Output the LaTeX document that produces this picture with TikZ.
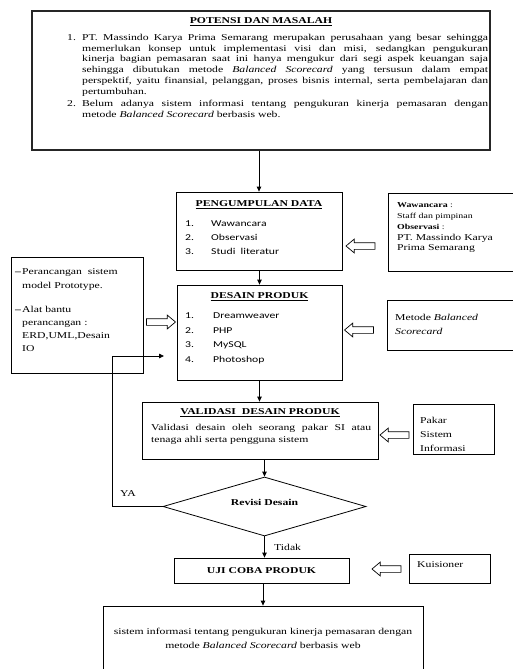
\documentclass[tikz,border=0pt]{standalone}
\usepackage{fontspec}
\usepackage{graphicx}
\setmainfont{Liberation Serif}
\newfontfamily\calib{Carlito}
\usetikzlibrary{arrows.meta,shapes.geometric,shapes.arrows}
\newcommand{\HS}[1]{\scalebox{1.3}[1]{#1}}
\newcommand{\LL}[1]{\begin{tabular}[t]{@{}l@{}}#1\end{tabular}}
\tikzset{
  box/.style={draw, line width=0.8pt, inner sep=0pt},
  txt/.style={inner sep=0pt, anchor=north west},
  conn/.style={line width=0.8pt, -{Triangle[length=5pt,width=4.5pt]}},
  hollow/.style={single arrow, draw, line width=0.7pt, inner sep=3pt, minimum height=29pt,
    single arrow head extend=3.5pt, single arrow tip angle=80},
  hollowL/.style={hollow, shape border rotate=180},
  hollowR/.style={hollow, shape border rotate=0},
  ttl/.style={inner sep=0pt, font=\fontsize{9}{10.8}\selectfont\bfseries},
}
\begin{document}
\begin{tikzpicture}[x=1pt,y=-1pt, font=\fontsize{9}{10.8}\selectfont]
\useasboundingbox (0,0) rectangle (512,669);

% boxes
\node[box, draw=black!85, line width=1.2pt, minimum width=458pt, minimum height=139pt] (potensi) at (261,80.5) {};
\node[box, minimum width=166pt, minimum height=78pt] (kumpul) at (259,231) {};
\node[box, minimum width=165pt, minimum height=95pt] (desain) at (259.5,332.5) {};
\node[box, minimum width=132pt, minimum height=116pt] (kiri) at (77,315) {};
\node[box, minimum width=127pt, minimum height=78pt] (wawan) at (451.5,232) {};
\node[box, minimum width=128pt, minimum height=50pt] (metode) at (451,325) {};
\node[box, minimum width=236pt, minimum height=57pt] (valid) at (260,430.5) {};
\node[box, minimum width=81pt, minimum height=50pt] (pakar) at (453.5,429) {};
\node[draw, line width=0.8pt, diamond, inner sep=0pt, minimum width=203pt, minimum height=59pt] (rev) at (264.5,506.5) {};
\node[box, minimum width=175pt, minimum height=25pt] (uji) at (261.5,570.5) {};
\node[box, minimum width=81pt, minimum height=29pt] (kuis) at (449.5,568.5) {};
\node[box, minimum width=320pt, minimum height=64pt] (hasil) at (263,638) {};

% texts: potensi
\node[ttl] (tpot) at (261,22) {\HS{\underline{POTENSI DAN MASALAH}}};
\node[txt] (tpotisi) at (67,33.8) {\HS{\parbox[t]{323.8pt}{%
\noindent\hangindent=11.5pt\hangafter=1\makebox[11.5pt][l]{1.}PT. Massindo Karya Prima Semarang merupakan perusahaan yang besar sehingga\linebreak
memerlukan konsep untuk implementasi visi dan misi, sedangkan pengukuran\linebreak
kinerja bagian pemasaran saat ini hanya mengukur dari segi aspek keuangan saja\linebreak
sehingga dibutukan metode \textit{Balanced Scorecard} yang tersusun dalam empat\linebreak
perspektif, yaitu finansial, pelanggan, proses bisnis internal, serta pembelajaran dan\linebreak
pertumbuhan.\par\vspace{1.2pt}
\noindent\hangindent=11.5pt\hangafter=1\makebox[11.5pt][l]{2.}Belum adanya sistem informasi tentang pengukuran kinerja pemasaran dengan\linebreak
metode \textit{Balanced Scorecard} berbasis web.\par}}};

% pengumpulan data
\node[ttl] (tkum) at (259,205) {\HS{\underline{PENGUMPULAN DATA}}};
\node[txt, font=\calib\fontsize{9}{14}\selectfont] (tkumisi) at (185,216) {\HS{\LL{%
\makebox[20pt][l]{1.}Wawancara\\
\makebox[20pt][l]{2.}Observasi\\
\makebox[20pt][l]{3.}Studi\ \ literatur}}};

% desain produk
\node[ttl] (tdes) at (259.5,297) {\HS{\underline{DESAIN PRODUK}}};
\node[txt, font=\calib\fontsize{9}{14.6}\selectfont] (tdesisi) at (185,308) {\HS{\LL{%
\makebox[21.5pt][l]{1.}Dreamweaver\\
\makebox[21.5pt][l]{2.}PHP\\
\makebox[21.5pt][l]{3.}MySQL\\
\makebox[21.5pt][l]{4.}Photoshop}}};

% left box
\node[txt, font=\fontsize{9}{13.2}\selectfont] (tkiri) at (15,265.5) {\HS{\LL{%
\makebox[5.4pt][l]{\textbf{–}}Perancangan\ \ sistem\\
\hspace*{5.4pt}model Prototype.\\[11pt]
\makebox[5.4pt][l]{\textbf{–}}Alat bantu\\
\hspace*{5.4pt}perancangan :\\
\hspace*{5.4pt}ERD,UML,Desain\\
\hspace*{5.4pt}IO}}};

% wawancara box
\node[txt] (twawan) at (397,200) {\HS{\LL{%
{\fontsize{7.6}{13.5}\selectfont\textbf{Wawancara} :}\\
{\fontsize{7.6}{13.5}\selectfont Staff dan pimpinan}\\
{\fontsize{7.6}{13.5}\selectfont\textbf{Observasi} :}\\
{\fontsize{9}{13.5}\selectfont PT. Massindo Karya}\\
{\fontsize{9}{13.5}\selectfont Prima Semarang}}}};

% metode box
\node[txt, font=\fontsize{9}{14}\selectfont] (tmet) at (395,310.5) {\HS{\LL{Metode \textit{Balanced}\\\textit{Scorecard}}}};

% validasi
\node[ttl] (tval) at (260,413) {\HS{\underline{VALIDASI\ \ DESAIN PRODUK}}};
\node[txt, font=\fontsize{9}{12}\selectfont] (tvalisi) at (151,424.5) {\HS{\parbox[t]{169.2pt}{%
\noindent Validasi desain oleh seorang pakar SI atau\linebreak tenaga ahli serta pengguna sistem\par}}};

% pakar
\node[txt, font=\fontsize{9}{14}\selectfont] (tpak) at (420,413.5) {\HS{\LL{Pakar\\Sistem\\Informasi}}};

% diamond text
\node[ttl] (trev) at (264.5,502) {\HS{Revisi Desain}};

% uji coba
\node[ttl] (tuji) at (261.5,570.5) {\HS{UJI COBA PRODUK}};
\node[inner sep=0pt, anchor=west] (tkuis) at (417,565) {\HS{Kuisioner}};

% hasil
\node[inner sep=0pt, font=\fontsize{9}{14}\selectfont] (thas) at (263,639) {\HS{\begin{tabular}{@{}c@{}}%
sistem informasi tentang pengukuran kinerja pemasaran dengan\\
metode \textit{Balanced Scorecard} berbasis web\end{tabular}}};

% labels
\node[inner sep=0pt] (lya) at (128,494) {\HS{YA}};
\node[inner sep=0pt, anchor=west] (ltid) at (274,547) {\HS{Tidak}};

% connectors
\draw[conn] (kumpul.north |- potensi.south) -- (kumpul.north);
\draw[conn] (kumpul.south) -- (desain.north |- kumpul.south) -- (desain.north);
\draw[conn] (desain.south) -- (desain.south |- valid.north);
\draw[conn] (rev.north |- valid.south) -- (rev.north);
\draw[conn] (rev.south) -- (rev.south |- uji.north);
\draw[conn] (hasil.north |- uji.south) -- (hasil.north);

\coordinate (yaturn) at (112,356);
\coordinate (yaend) at (164,356);
\draw[conn] (rev.west) -- (rev.west -| yaturn) -- (yaturn) -- (yaend);

% hollow arrows
\node[hollowL] (h1) at (362.5,246) {};
\node[hollowR] (h2) at (159,322) {};
\node[hollowL] (h3) at (361,330) {};
\node[hollowL] (h4) at (396.5,435) {};
\node[hollowL] (h5) at (388.5,569) {};
\end{tikzpicture}
\end{document}
